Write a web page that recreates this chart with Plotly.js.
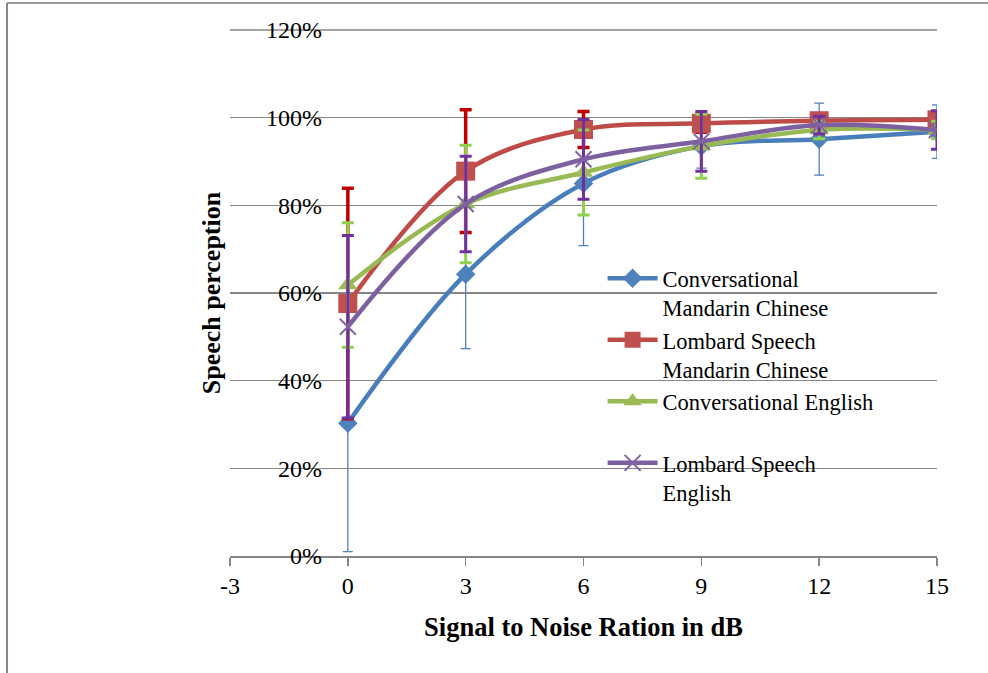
<!DOCTYPE html>
<html>
<head>
<meta charset="utf-8">
<script src="https://cdn.plot.ly/plotly-3.0.1.min.js"></script>
<style>
  html, body { margin: 0; padding: 0; background: #fff; }
  #chart { width: 988px; height: 673px; }
</style>
</head>
<body>
<div id="chart"></div>
<script>
// Signal-to-noise ratio levels (dB)
const snr = [0, 3, 6, 9, 12, 15];

// Mean speech perception scores
const convMandarin = [0.303, 0.643, 0.850, 0.935, 0.951, 0.968];
const lombardMandarin = [0.576, 0.878, 0.973, 0.987, 0.993, 0.995];
const convEnglish = [0.618, 0.803, 0.875, 0.935, 0.972, 0.972];
const lombardEnglish = [0.523, 0.803, 0.905, 0.946, 0.983, 0.972];

// Standard deviations (symmetric error bars)
const convMandarinSD = [0.293, 0.170, 0.142, 0.050, 0.082, 0.061];
const lombardMandarinSD = [0.263, 0.140, 0.041, 0.020, 0.010, 0.005];
const convEnglishSD = [0.142, 0.134, 0.097, 0.073, 0.020, 0.020];
const lombardEnglishSD = [0.208, 0.109, 0.091, 0.068, 0.020, 0.044];

// Series names
const names = [
  'Conversational<br>Mandarin Chinese',
  'Lombard Speech<br>Mandarin Chinese',
  'Conversational English<br>&nbsp;',
  'Lombard Speech<br>English'
];

const xTicks = [-3, 0, 3, 6, 9, 12, 15];
const yTicks = [0, 0.2, 0.4, 0.6, 0.8, 1.0, 1.2];

const serif = 'Liberation Serif, Times New Roman, serif';

function series(y, sd, name, lineColor, markerColor, symbol, size, errColor, errThick, errWidth, open) {
  return {
    type: 'scatter',
    mode: 'lines+markers',
    x: snr,
    y: y,
    name: name,
    line: { color: lineColor, width: 4.5, shape: 'spline', smoothing: 1 },
    marker: open
      ? { symbol: symbol, size: size, color: markerColor, line: { color: markerColor, width: 2 } }
      : { symbol: symbol, size: size, color: markerColor, line: { width: 0 } },
    error_y: {
      type: 'data', array: sd, visible: true,
      color: errColor, thickness: errThick, width: errWidth
    }
  };
}

const traces = [
  series(convMandarin, convMandarinSD, names[0], '#4A7EBB', '#4F81BD', 'diamond', 15, '#4F81BD', 1.3, 5, false),
  series(lombardMandarin, lombardMandarinSD, names[1], '#BE4B48', '#C0504D', 'square', 19, '#C00000', 3.5, 6, false),
  series(convEnglish, convEnglishSD, names[2], '#98B954', '#9BBB59', 'triangle-up', 17, '#92D050', 3, 6, false),
  series(lombardEnglish, lombardEnglishSD, names[3], '#7D60A0', '#8064A2', 'x-thin-open', 16, '#7030A0', 3, 6, true)
];

const layout = {
  width: 988,
  height: 673,
  paper_bgcolor: '#fff',
  plot_bgcolor: 'rgba(0,0,0,0)',
  margin: { l: 230, r: 51, t: 30, b: 117 },
  font: { family: serif, color: '#000', size: 24 },
  showlegend: true,
  legend: {
    x: 0.527, y: 0.568, xanchor: 'left', yanchor: 'top',
    bgcolor: 'rgba(0,0,0,0)',
    font: { family: serif, size: 22.5, color: '#000' },
    valign: 'top',
    itemwidth: 50,
    tracegroupgap: 0
  },
  xaxis: {
    range: [-3, 15],
    tickmode: 'array',
    tickvals: xTicks,
    ticktext: xTicks.map(String),
    ticks: 'outside', ticklen: 8, tickwidth: 1.5, tickcolor: '#868686',
    showline: true, linecolor: '#868686', linewidth: 1.5,
    showgrid: false, zeroline: false,
    tickfont: { family: serif, size: 24, color: '#000' },
    title: {
      text: '<b>Signal to Noise Ration in dB</b>',
      font: { family: serif, size: 26.5, color: '#000' },
      standoff: 19
    },
    automargin: false
  },
  yaxis: {
    range: [0, 1.2],
    tickmode: 'array',
    tickvals: yTicks,
    ticktext: yTicks.map(v => Math.round(v * 100) + '%'),
    anchor: 'free',
    position: 0.1655,
    ticks: '',
    ticklabelstandoff: 25,
    showline: false, zeroline: false,
    showgrid: true, gridcolor: '#868686', gridwidth: 1.5,
    tickfont: { family: serif, size: 24, color: '#000' },
    title: {
      text: '<b>Speech perception</b>',
      font: { family: serif, size: 26, color: '#000' },
      standoff: 36
    },
    automargin: false
  },
  shapes: [
    // top gridline at the upper edge of the value range
    { type: 'line', xref: 'paper', yref: 'paper', x0: 0, x1: 1, y0: 1, y1: 1,
      layer: 'below', line: { color: '#868686', width: 1.5 } },
    // chart frame (top and left edges)
    { type: 'line', xref: 'paper', yref: 'paper', x0: -0.3154, x1: 1.075, y0: 1.0513, y1: 1.0513,
      line: { color: '#999', width: 2 } },
    { type: 'line', xref: 'paper', yref: 'paper', x0: -0.3154, x1: -0.3154, y0: 1.0513, y1: -0.25,
      line: { color: '#888', width: 2 } }
  ]
};

Plotly.newPlot('chart', traces, layout, { displayModeBar: false, staticPlot: true });
</script>
</body>
</html>
